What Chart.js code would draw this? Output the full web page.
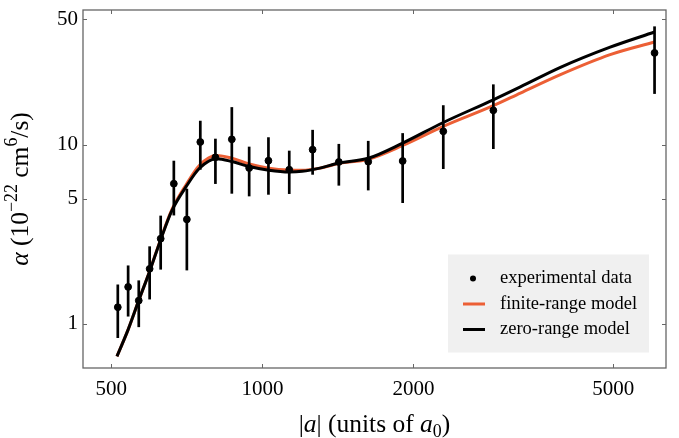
<!DOCTYPE html>
<html>
<head>
<meta charset="utf-8">
<script src="https://cdn.jsdelivr.net/npm/chart.js@4/dist/chart.umd.min.js"></script>
<style>
  body { margin: 0; background: #fff; }
  #wrap { width: 679px; height: 438px; }
</style>
</head>
<body>
<div id="wrap"><canvas id="chart" width="679" height="438"></canvas></div>
<script>
// measured points (|a| in units of a0, alpha in 1e-22 cm^6/s)
const expX = [515, 540, 567, 596, 627, 666, 707, 752, 806, 869, 941, 1028, 1131, 1259, 1420, 1625, 1903, 2293, 2885, 6045];
const expY = [1.24, 1.61, 1.35, 2.03, 2.99, 6.06, 3.83, 10.35, 8.50, 10.71, 7.41, 8.14, 7.25, 9.38, 8.01, 8.04, 8.11, 11.87, 15.54, 32.5];
const expLow = [0.835, 1.10, 0.96, 1.37, 2.01, 4.03, 1.99, 7.25, 6.04, 5.33, 5.15, 5.26, 5.31, 6.80, 5.91, 5.56, 4.73, 7.32, 9.46, 19.2];
const expHigh = [1.66, 2.12, 1.75, 2.71, 4.02, 8.14, 5.68, 13.6, 10.8, 16.2, 9.75, 11.0, 9.26, 12.1, 10.1, 10.5, 11.6, 16.6, 21.7, 45.7];

// model curves
const modelX = [513, 540, 567, 596, 627, 659, 705, 750, 810, 870, 941, 1030, 1131, 1200, 1302, 1420, 1625, 1903, 2293, 2885, 3266, 3925, 4931, 6045];
const zeroRange = [0.66, 0.93, 1.354, 1.965, 2.95, 4.25, 5.85, 7.41, 8.35, 8.05, 7.55, 7.2, 7.04, 7.1, 7.4, 7.9, 8.4, 10.2, 13.3, 17.8, 21.0, 27.0, 35.0, 42.5];
const finiteRange = [0.66, 0.93, 1.354, 1.97, 2.97, 4.3, 6.0, 7.7, 8.7, 8.4, 7.8, 7.4, 7.22, 7.2, 7.4, 7.85, 8.3, 9.9, 12.65, 16.5, 19.4, 24.6, 31.8, 37.4];

const xTicks = [500, 1000, 2000, 5000];
const yTicks = [1, 5, 10, 50];
const legendLabels = ["experimental data", "finite-range model", "zero-range model"];

const ORANGE = "#ec5f35";
const FONT = "'Liberation Serif', 'DejaVu Serif', serif";

const toPts = (xs, ys) => xs.map((v, i) => ({x: v, y: ys[i]}));

// rich text: plain, italic, superscript, subscript pieces
function richText(ctx, parts, size, cx, cy) {
  const fontOf = p => (p.it ? "italic " : "") + (p.sup || p.sub ? size * 0.7 : size) + "px " + FONT;
  let w = 0;
  parts.forEach(p => { ctx.font = fontOf(p); w += ctx.measureText(p.t).width; });
  let x = cx - w / 2;
  ctx.textAlign = "left";
  ctx.textBaseline = "alphabetic";
  parts.forEach(p => {
    ctx.font = fontOf(p);
    const dy = p.sup ? -size * 0.42 : p.sub ? size * 0.2 : 0;
    ctx.fillText(p.t, x, cy + dy);
    x += ctx.measureText(p.t).width;
  });
}

//error bars on top of the curves
const errorBars = {
  id: "errorBars",
  afterDatasetsDraw(chart) {
    const {ctx, scales: {x, y}} = chart;
    ctx.save();
    ctx.strokeStyle = "#000";
    ctx.lineWidth = 2.7;
    expX.forEach((v, i) => {
      const px = x.getPixelForValue(v);
      ctx.beginPath();
      ctx.moveTo(px, y.getPixelForValue(expLow[i]));
      ctx.lineTo(px, y.getPixelForValue(expHigh[i]));
      ctx.stroke();
    });
    ctx.restore();
  }
};

// frame, inward ticks, axis titles and legend box
const frame = {
  id: "frame",
  afterDraw(chart) {
    const {ctx, chartArea: {left, right, top, bottom}, scales: {x, y}} = chart;
    ctx.save();
    ctx.strokeStyle = "#666";
    ctx.lineWidth = 1.3;
    ctx.strokeRect(left, top, right - left, bottom - top);
    ctx.lineWidth = 1;
    ctx.beginPath();
    x.ticks.forEach(t => {
      const px = Math.round(x.getPixelForValue(t.value)) + 0.5;
      ctx.moveTo(px, bottom); ctx.lineTo(px, bottom - 4);
      ctx.moveTo(px, top); ctx.lineTo(px, top + 4);
    });
    y.ticks.forEach(t => {
      const py = Math.round(y.getPixelForValue(t.value)) + 0.5;
      ctx.moveTo(left, py); ctx.lineTo(left + 4, py);
      ctx.moveTo(right, py); ctx.lineTo(right - 4, py);
    });
    ctx.stroke();

    // axis titles
    ctx.fillStyle = "#000";
    richText(ctx, [{t: "|"}, {t: "a", it: true}, {t: "| (units of "}, {t: "a", it: true}, {t: "0", sub: true}, {t: ")"}],
      25.5, (left + right) / 2, 432);
    ctx.save();
    ctx.translate(28, (top + bottom) / 2);
    ctx.rotate(-Math.PI / 2);
    richText(ctx, [{t: "\u03b1", it: true}, {t: " (10"}, {t: "\u221222", sup: true}, {t: " cm"}, {t: "6", sup: true}, {t: "/s)"}],
      25.5, 0, 0);
    ctx.restore();

    // legend
    const bx = right - 17, by = bottom - 15.5;
    ctx.fillStyle = "#f0f0f0";
    ctx.fillRect(bx - 201, by - 98, 201, 98);
    const rows = [by - 74, by - 48.5, by - 23];
    ctx.font = "18.5px " + FONT;
    ctx.textAlign = "left";
    ctx.textBaseline = "middle";
    ctx.fillStyle = "#000";
    ctx.beginPath();
    ctx.arc(bx - 176, rows[0], 3, 0, Math.PI * 2);
    ctx.fill();
    ctx.lineWidth = 3;
    ctx.strokeStyle = ORANGE;
    ctx.beginPath(); ctx.moveTo(bx - 186, rows[1]); ctx.lineTo(bx - 164, rows[1]); ctx.stroke();
    ctx.strokeStyle = "#000";
    ctx.beginPath(); ctx.moveTo(bx - 186, rows[2]); ctx.lineTo(bx - 164, rows[2]); ctx.stroke();
    legendLabels.forEach((l, i) => ctx.fillText(l, bx - 149, rows[i]));
    ctx.restore();
  }
};

new Chart(document.getElementById("chart"), {
  type: "scatter",
  data: {
    datasets: [
      {
        label: legendLabels[0],
        data: toPts(expX, expY),
        backgroundColor: "#000",
        borderColor: "#000",
        pointRadius: 3.4,
        order: 0
      },
      {
        label: legendLabels[2],
        data: toPts(modelX, zeroRange),
        showLine: true,
        borderColor: "#000",
        borderWidth: 3,
        pointRadius: 0,
        cubicInterpolationMode: "monotone",
        order: 1
      },
      {
        label: legendLabels[1],
        data: toPts(modelX, finiteRange),
        showLine: true,
        borderColor: ORANGE,
        borderWidth: 3,
        pointRadius: 0,
        cubicInterpolationMode: "monotone",
        order: 2
      }
    ]
  },
  options: {
    responsive: false,
    animation: false,
    devicePixelRatio: 1,
    layout: { padding: { left: 0, top: 10, right: 13, bottom: 0 } },
    plugins: { legend: { display: false }, tooltip: { enabled: false } },
    scales: {
      x: {
        type: "logarithmic",
        min: 439, max: 6371,
        afterBuildTicks: s => { s.ticks = xTicks.map(v => ({value: v})); },
        afterFit: s => { s.height = 70; s.paddingLeft = 0; s.paddingRight = 0; },
        grid: { display: false, drawTicks: false },
        border: { display: false },
        ticks: { callback: v => String(v), color: "#000", padding: 9, maxRotation: 0, font: { family: FONT, size: 21 } }
      },
      y: {
        type: "logarithmic",
        min: 0.568, max: 56.4,
        afterBuildTicks: s => { s.ticks = yTicks.map(v => ({value: v})); },
        afterFit: s => { s.width = 83; s.paddingTop = 0; s.paddingBottom = 0; },
        grid: { display: false, drawTicks: false },
        border: { display: false },
        ticks: { callback: v => String(v), color: "#000", padding: 5, font: { family: FONT, size: 21 } }
      }
    }
  },
  plugins: [errorBars, frame]
});
</script>
</body>
</html>
